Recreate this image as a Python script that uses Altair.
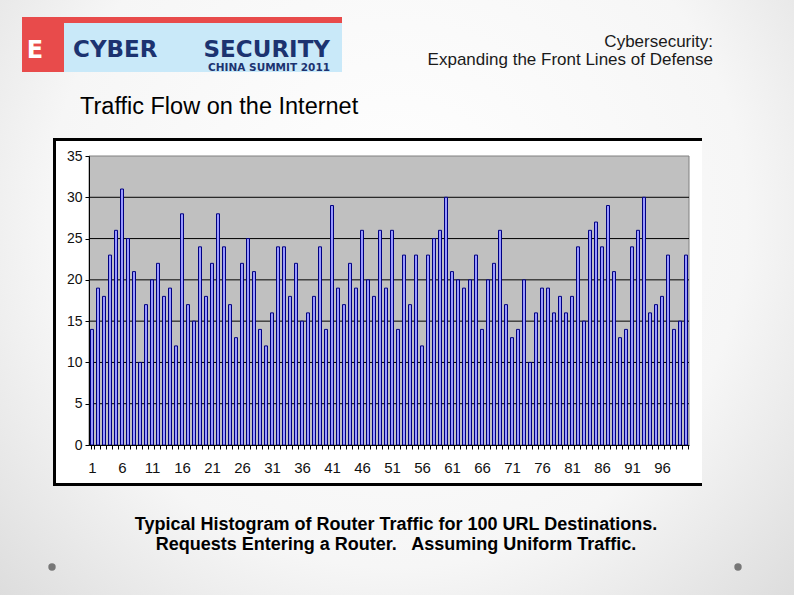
import altair as alt
import pandas as pd

# Requests per URL destination (1..100)
destinations = list(range(1, 101))
requests = [14, 19, 18, 23, 26, 31, 25, 21, 10, 17,
            20, 22, 18, 19, 12, 28, 17, 15, 24, 18,
            22, 28, 24, 17, 13, 22, 25, 21, 14, 12,
            16, 24, 24, 18, 22, 15, 16, 18, 24, 14,
            29, 19, 17, 22, 19, 26, 20, 18, 26, 19,
            26, 14, 23, 17, 23, 12, 23, 25, 26, 30,
            21, 20, 19, 20, 23, 14, 20, 22, 26, 17,
            13, 14, 20, 10, 16, 19, 19, 16, 18, 16,
            18, 24, 15, 26, 27, 24, 29, 21, 13, 14,
            24, 26, 30, 16, 17, 18, 23, 14, 15, 23]
y_ticks = [0, 5, 10, 15, 20, 25, 30, 35]
grid_levels = [5, 10, 15, 20, 25, 30]

header_right = ["Cybersecurity:", "Expanding the Front Lines of Defense"]
slide_title = "Traffic Flow on the Internet"
caption = ["Typical Histogram of Router Traffic for 100 URL Destinations.",
           "Requests Entering a Router.\u00a0\u00a0 Assuming Uniform Traffic."]

FONT = "Liberation Sans"
W, H = 600, 289

bars_df = pd.DataFrame({"destination": destinations, "requests": requests})
grid_df = pd.DataFrame({"requests": grid_levels})
one = pd.DataFrame({"k": [0]})


def box(x, x2, y, y2, **style):
    return alt.Chart(one).mark_rect(**style).encode(
        x=alt.value(x), x2=alt.value(x2), y=alt.value(y), y2=alt.value(y2)
    )


def label(text, x, y, size, align="left", weight="normal", color="#1a1a1a", font=FONT):
    return alt.Chart(one).mark_text(
        text=text, align=align, baseline="alphabetic", font=font,
        fontSize=size, fontWeight=weight, color=color
    ).encode(x=alt.value(x), y=alt.value(y))


y_scale = alt.Scale(domain=[0, 35], nice=False)
y_axis = alt.Axis(title=None, values=y_ticks, grid=False, tickSize=4,
                  tickColor="#000000", domainColor="#000000",
                  labelFont=FONT, labelFontSize=14, labelColor="#111111",
                  labelPadding=3, zindex=1)

# slide background
background = box(-89, 705, -156, 439, color=alt.Gradient(
    gradient="radial",
    stops=[alt.GradientStop(offset=0, color="#ffffff"),
           alt.GradientStop(offset=0.55, color="#f6f6f6"),
           alt.GradientStop(offset=1, color="#d2d2d2")],
    x1=0.5, y1=0.4, r1=0, x2=0.5, y2=0.4, r2=0.8))

# chart frame
frame_dark = box(-36, 613, -18, 330, color="#000000")
frame_white = box(-33, 613, -15, 327, color="#ffffff")
plot_bg = box(0, W, 0, H, fill="#c0c0c0", stroke="#808080", strokeWidth=1)

gridlines = alt.Chart(grid_df).mark_rule(color="#000000", strokeWidth=1).encode(
    y=alt.Y("requests:Q", axis=y_axis, scale=y_scale),
    x=alt.value(0), x2=alt.value(W),
)

bars = alt.Chart(bars_df).mark_bar(fill="#9999ff", stroke="#000080", strokeWidth=1).encode(
    x=alt.X("destination:O",
            scale=alt.Scale(paddingInner=0.5, paddingOuter=0.25),
            axis=alt.Axis(title=None, labelAngle=0, labelOverlap=False,
                          labelExpr="(datum.value - 1) % 5 == 0 ? datum.label : ''",
                          tickBand="extent", tickSize=4, tickColor="#000000",
                          domainColor="#000000", grid=False,
                          labelFont=FONT, labelFontSize=15, labelColor="#111111",
                          labelPadding=11, zindex=1)),
    y=alt.Y("requests:Q", scale=y_scale, axis=y_axis),
)

# event logo
logo = [
    box(-67, 253, -139, -133, color="#e84b4b"),
    box(-67, -25, -139, -84, color="#e84b4b"),
    box(-25, 253, -133, -84, color="#c9e9f9"),
    label("E", -54, -98, 24, align="center", weight="bold", color="#ffffff", font="DejaVu Sans"),
    label("CYBER", -16, -99, 23, weight="bold", color="#1c3370", font="DejaVu Sans"),
    label("SECURITY", 241, -99, 23, align="right", weight="bold", color="#1c3370", font="DejaVu Sans"),
    label("CHINA SUMMIT 2011", 241, -85, 10.5, align="right", weight="bold", color="#1c3370", font="DejaVu Sans"),
]

texts = [
    label(header_right[0], 624, -109, 17, align="right"),
    label(header_right[1], 624, -91, 17, align="right"),
    label(slide_title, -9, -42, 23.5, color="#000000"),
    label(caption[0], 307, 374, 18, align="center", weight="bold", color="#000000"),
    label(caption[1], 307, 394, 18, align="center", weight="bold", color="#000000"),
]

dots = alt.Chart(pd.DataFrame({"px": [-37, 649]})).mark_point(
    filled=True, size=55, color="#777777", opacity=1
).encode(x=alt.X("px:Q", scale=None), y=alt.value(411))

chart = alt.layer(
    background, frame_dark, frame_white, plot_bg, gridlines, bars,
    *logo, *texts, dots
).properties(
    width=W, height=H,
    autosize=alt.AutoSizeParams(type="none"),
    padding={"left": 89, "top": 156, "right": 105, "bottom": 150},
).configure_view(stroke=None)

chart.save("out.html", embed_options={"renderer": "svg", "actions": False})
